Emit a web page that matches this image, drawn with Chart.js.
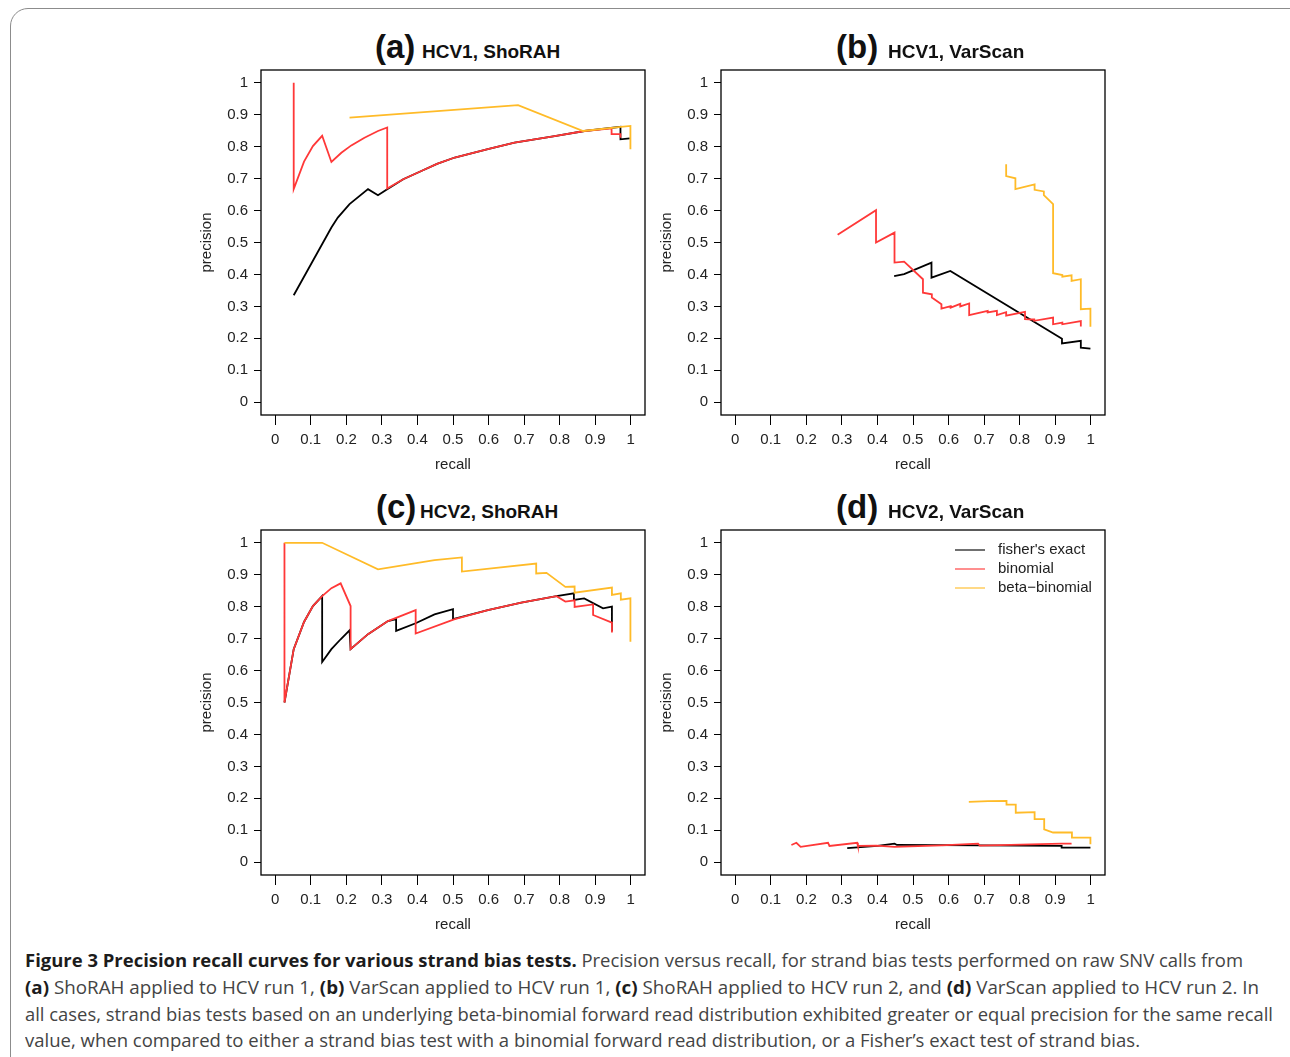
<!DOCTYPE html>
<html>
<head>
<meta charset="utf-8">
<script src="https://cdn.jsdelivr.net/npm/chart.js@4.4.1/dist/chart.umd.min.js"></script>
<style>
  body { margin: 0; background: #fff; width: 1290px; height: 1057px; overflow: hidden; position: relative;
         font-family: "Liberation Sans", Arial, sans-serif; }
  .frame { position: absolute; left: 10px; top: 8px; width: 1300px; height: 1100px; box-sizing: border-box;
           border: 1.5px solid #8c8c8c; border-radius: 18px; }
  canvas { position: absolute; }
  .tl { position: absolute; font-weight: bold; color: #111; white-space: nowrap; line-height: 1; }
  .big { font-size: 33px; }
  .small { font-size: 19px; }
  .cap { position: absolute; left: 25px; white-space: nowrap; font-family: "Open Sans", sans-serif; font-size: 18px;
         line-height: 24px; color: #444; transform-origin: 0 0; }
  .cap b { color: #1c1c1c; }
</style>
</head>
<body>
<div class="frame"></div>

<canvas id="chartA" width="470" height="420" style="left:185px;top:65px"></canvas>
<canvas id="chartB" width="470" height="420" style="left:645px;top:65px"></canvas>
<canvas id="chartC" width="470" height="420" style="left:185px;top:525px"></canvas>
<canvas id="chartD" width="470" height="420" style="left:645px;top:525px"></canvas>

<span class="tl big" style="left:375px;top:30px">(a)</span>
<span class="tl small" style="left:422px;top:42px">HCV1, ShoRAH</span>
<span class="tl big" style="left:836px;top:30px">(b)</span>
<span class="tl small" style="left:888px;top:42px">HCV1, VarScan</span>
<span class="tl big" style="left:376px;top:490px">(c)</span>
<span class="tl small" style="left:420px;top:502px">HCV2, ShoRAH</span>
<span class="tl big" style="left:836px;top:490px">(d)</span>
<span class="tl small" style="left:888px;top:502px">HCV2, VarScan</span>

<div class="cap" data-w="1218" style="top:948px"><b>Figure 3 Precision recall curves for various strand bias tests.</b> Precision versus recall, for strand bias tests performed on raw SNV calls from</div>
<div class="cap" data-w="1234" style="top:975px"><b>(a)</b> ShoRAH applied to HCV run 1, <b>(b)</b> VarScan applied to HCV run 1, <b>(c)</b> ShoRAH applied to HCV run 2, and <b>(d)</b> VarScan applied to HCV run 2. In</div>
<div class="cap" data-w="1248" style="top:1002px">all cases, strand bias tests based on an underlying beta-binomial forward read distribution exhibited greater or equal precision for the same recall</div>
<div class="cap" data-w="1115" style="top:1028px">value, when compared to either a strand bias test with a binomial forward read distribution, or a Fisher’s exact test of strand bias.</div>

<script>
"use strict";

const tickValues = [0, 0.1, 0.2, 0.3, 0.4, 0.5, 0.6, 0.7, 0.8, 0.9, 1];
const tickLabels = ["0", "0.1", "0.2", "0.3", "0.4", "0.5", "0.6", "0.7", "0.8", "0.9", "1"];
const seriesNames = ["fisher's exact", "binomial", "beta\u2212binomial"];
const seriesColors = ["#000000", "#ff3838", "#ffbb28"];

// [recall, precision]
const aFisher = [[0.052, 0.335], [0.158, 0.547], [0.176, 0.578], [0.209, 0.620], [0.261, 0.667], [0.289, 0.648],
  [0.315, 0.667], [0.36, 0.698], [0.411, 0.724], [0.455, 0.746], [0.505, 0.766], [0.598, 0.792], [0.673, 0.813],
  [0.786, 0.833], [0.870, 0.849], [0.971, 0.862], [0.971, 0.823], [0.997, 0.826]];
const aBinom = [[0.052, 1.0], [0.052, 0.667], [0.081, 0.753], [0.106, 0.802], [0.132, 0.834], [0.158, 0.752],
  [0.186, 0.781], [0.214, 0.804], [0.251, 0.828], [0.289, 0.849], [0.315, 0.860], [0.315, 0.669], [0.36, 0.698],
  [0.411, 0.724], [0.455, 0.746], [0.505, 0.766], [0.598, 0.792], [0.673, 0.813], [0.786, 0.833], [0.870, 0.849],
  [0.946, 0.857], [0.946, 0.839], [0.971, 0.839], [0.971, 0.828]];
const aBeta = [[0.209, 0.891], [0.683, 0.930], [0.866, 0.849], [0.972, 0.862], [0.999, 0.865], [0.999, 0.792]];

const bFisher = [[0.447, 0.395], [0.475, 0.401], [0.552, 0.437], [0.552, 0.390], [0.605, 0.411], [0.919, 0.199],
  [0.919, 0.184], [0.972, 0.192], [0.972, 0.171], [0.999, 0.168]];
const bBinom = [[0.288, 0.524], [0.396, 0.601], [0.396, 0.500], [0.448, 0.531], [0.448, 0.437], [0.475, 0.440],
  [0.528, 0.385], [0.528, 0.343], [0.553, 0.338], [0.553, 0.328], [0.580, 0.307], [0.580, 0.293], [0.606, 0.301],
  [0.606, 0.296], [0.633, 0.308], [0.633, 0.300], [0.658, 0.309], [0.658, 0.273], [0.710, 0.286], [0.710, 0.281],
  [0.736, 0.286], [0.736, 0.273], [0.762, 0.282], [0.762, 0.271], [0.815, 0.283], [0.815, 0.260], [0.841, 0.259],
  [0.841, 0.255], [0.894, 0.265], [0.894, 0.244], [0.920, 0.249], [0.920, 0.244], [0.972, 0.254], [0.972, 0.237]];
const bBeta = [[0.762, 0.745], [0.762, 0.708], [0.788, 0.701], [0.788, 0.667], [0.842, 0.682], [0.842, 0.665],
  [0.868, 0.660], [0.868, 0.648], [0.894, 0.620], [0.894, 0.404], [0.920, 0.398], [0.920, 0.393], [0.946, 0.397],
  [0.946, 0.380], [0.972, 0.385], [0.972, 0.291], [0.999, 0.293], [0.999, 0.236]];

const cFisher = [[0.026, 0.500], [0.052, 0.667], [0.081, 0.752], [0.106, 0.802], [0.132, 0.833], [0.132, 0.627],
  [0.158, 0.667], [0.184, 0.698], [0.209, 0.726], [0.212, 0.667], [0.261, 0.714], [0.317, 0.755], [0.340, 0.761],
  [0.340, 0.724], [0.395, 0.748], [0.448, 0.776], [0.500, 0.792], [0.500, 0.761], [0.598, 0.789], [0.692, 0.813],
  [0.791, 0.833], [0.840, 0.842], [0.840, 0.821], [0.869, 0.826], [0.922, 0.795], [0.947, 0.800], [0.947, 0.723]];
const cBinom = [[0.026, 1.0], [0.026, 0.500], [0.052, 0.667], [0.081, 0.752], [0.106, 0.802], [0.132, 0.833],
  [0.158, 0.858], [0.184, 0.873], [0.212, 0.802], [0.212, 0.667], [0.261, 0.714], [0.317, 0.755], [0.395, 0.789],
  [0.395, 0.716], [0.505, 0.761], [0.598, 0.789], [0.692, 0.813], [0.791, 0.833], [0.816, 0.816], [0.842, 0.820],
  [0.842, 0.799], [0.894, 0.807], [0.894, 0.774], [0.947, 0.750], [0.947, 0.719]];
const cBeta = [[0.026, 1.0], [0.132, 1.0], [0.289, 0.917], [0.448, 0.946], [0.525, 0.954], [0.525, 0.910],
  [0.734, 0.935], [0.734, 0.904], [0.763, 0.906], [0.816, 0.862], [0.842, 0.863], [0.842, 0.844], [0.947, 0.860],
  [0.947, 0.837], [0.972, 0.842], [0.972, 0.822], [0.999, 0.826], [0.999, 0.690]];

const dFisher = [[0.315, 0.044], [0.40, 0.051], [0.448, 0.058], [0.455, 0.054], [0.918, 0.051], [0.918, 0.046],
  [0.999, 0.046]];
const dBinom = [[0.158, 0.054], [0.172, 0.061], [0.184, 0.048], [0.261, 0.061], [0.265, 0.051], [0.343, 0.061],
  [0.345, 0.051], [0.397, 0.052], [0.448, 0.048], [0.580, 0.053], [0.683, 0.058], [0.688, 0.052], [0.918, 0.058],
  [0.946, 0.058]];
const dBeta = [[0.657, 0.189], [0.711, 0.191], [0.763, 0.192], [0.763, 0.180], [0.789, 0.180], [0.789, 0.155],
  [0.842, 0.157], [0.842, 0.135], [0.869, 0.135], [0.869, 0.103], [0.894, 0.093], [0.947, 0.093], [0.947, 0.077],
  [0.999, 0.077], [0.999, 0.056]];

const fontFamily = "'Liberation Sans', Arial, sans-serif";

// box around the plot region, like R's bty="o"
const boxPlugin = {
  id: "box",
  afterDatasetsDraw(chart) {
    const { ctx, chartArea: a } = chart;
    ctx.save();
    ctx.strokeStyle = "#000";
    ctx.lineWidth = 1.3;
    ctx.strokeRect(a.left, a.top, a.right - a.left, a.bottom - a.top);
    ctx.restore();
  },
};

const legendPlugin = {
  id: "cornerLegend",
  afterDraw(chart, args, opts) {
    if (!opts.show) return;
    const { ctx, chartArea: a } = chart;
    ctx.save();
    ctx.font = "15px " + fontFamily;
    ctx.textBaseline = "middle";
    chart.data.datasets.forEach((ds, i) => {
      const y = a.top + 20 + i * 19;
      ctx.strokeStyle = ds.borderColor;
      ctx.globalAlpha = 0.75;
      ctx.lineWidth = 1.5;
      ctx.beginPath();
      ctx.moveTo(a.left + 234, y);
      ctx.lineTo(a.left + 264, y);
      ctx.stroke();
      ctx.globalAlpha = 1;
      ctx.fillStyle = "#222";
      ctx.fillText(ds.label, a.left + 277, y);
    });
    ctx.restore();
  },
};

function axis(isX) {
  return {
    type: "linear",
    min: -0.04,
    max: 1.04,
    afterBuildTicks: (s) => { s.ticks = tickValues.map((v) => ({ value: v })); },
    afterFit: (s) => {
      if (isX) s.height = 70; else s.width = 76;
      s.paddingTop = 0; s.paddingBottom = 0; s.paddingLeft = 0; s.paddingRight = 0;
    },
    grid: { drawOnChartArea: false, drawTicks: true, tickLength: isX ? 10 : 7, color: "#000", tickColor: "#000" },
    border: { display: false },
    ticks: {
      autoSkip: false,
      maxRotation: 0,
      padding: 6,
      color: "#222",
      font: { size: 15, family: fontFamily },
      callback: (v, i) => tickLabels[i],
    },
    title: {
      display: true,
      text: isX ? "recall" : "precision",
      color: "#222",
      font: { size: 15, family: fontFamily },
      padding: isX ? { top: 0, bottom: 11 } : { top: 13, bottom: 0 },
    },
  };
}

function makePanel(id, fisher, binom, beta, showLegend) {
  const sets = [fisher, binom, beta];
  return new Chart(document.getElementById(id), {
    type: "line",
    data: {
      datasets: sets.map((pts, i) => ({
        label: seriesNames[i],
        data: pts.map((p) => ({ x: p[0], y: p[1] })),
        borderColor: seriesColors[i],
        borderWidth: 1.8,
        pointRadius: 0,
        tension: 0,
        fill: false,
        order: 3 - i,
      })),
    },
    options: {
      responsive: false,
      animation: false,
      layout: { padding: { top: 5, right: 10, left: 0, bottom: 0 } },
      scales: { x: axis(true), y: axis(false) },
      plugins: {
        legend: { display: false },
        tooltip: { enabled: false },
        cornerLegend: { show: showLegend },
      },
    },
    plugins: [boxPlugin, legendPlugin],
  });
}

let chartA = makePanel("chartA", aFisher, aBinom, aBeta, false);
let chartB = makePanel("chartB", bFisher, bBinom, bBeta, false);
let chartC = makePanel("chartC", cFisher, cBinom, cBeta, false);
let chartD = makePanel("chartD", dFisher, dBinom, dBeta, true);

// squeeze caption lines to the measured widths of the reference
document.querySelectorAll(".cap").forEach((el) => {
  const w = el.getBoundingClientRect().width;
  el.style.transform = "scaleX(" + (Number(el.dataset.w) / w) + ")";
});
</script>
</body>
</html>
